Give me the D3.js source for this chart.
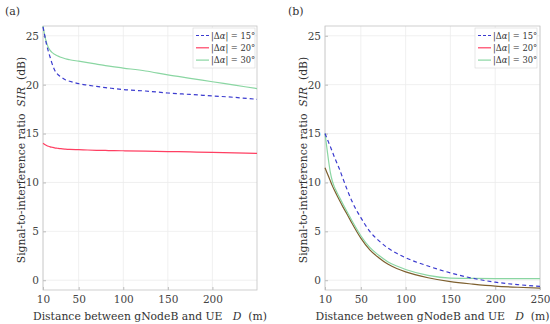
<!DOCTYPE html>
<html><head><meta charset="utf-8">
<script src="https://cdn.jsdelivr.net/npm/d3@7"></script>
<style>
body{margin:0;background:#fff;}
</style></head>
<body><svg id="c" width="550" height="324"></svg>
<script>
const distance = [10,12,14,16,18,20,23,26,30,35,40,50,60,70,80,90,100,125,150,175,200,225,250];
const blueA  = [25.9,25.0,24.1,23.4,22.8,22.2,21.5,21.1,20.8,20.5,20.35,20.1,19.95,19.82,19.7,19.6,19.5,19.35,19.15,19.0,18.85,18.7,18.5];
const redA   = [14.0,13.88,13.78,13.7,13.64,13.6,13.54,13.5,13.45,13.41,13.38,13.35,13.32,13.29,13.27,13.25,13.24,13.2,13.16,13.12,13.07,13.02,12.97];
const greenA = [26.0,25.0,24.3,23.8,23.5,23.3,23.1,22.95,22.8,22.65,22.55,22.4,22.25,22.1,21.95,21.82,21.7,21.4,21.0,20.65,20.3,19.95,19.6];
const blueB  = [15.0,14.55,14.1,13.65,13.2,12.7,12.05,11.4,10.4,9.2,8.1,6.4,5.0,4.05,3.3,2.75,2.3,1.45,0.75,0.2,-0.2,-0.45,-0.62];
const redB   = [11.5,11.05,10.6,10.15,9.7,9.3,8.75,8.2,7.5,6.7,5.85,4.3,3.1,2.3,1.65,1.2,0.85,0.25,-0.15,-0.4,-0.6,-0.72,-0.8];
const greenB = [15.0,13.6,12.2,11.0,10.2,9.65,9.05,8.5,7.8,6.95,6.1,4.55,3.35,2.55,1.9,1.45,1.1,0.5,0.22,0.18,0.17,0.17,0.17];
const xTicksA = [10,50,100,150,200];
const xTicksB = [10,50,100,150,200,250];
const yTicks = [0,5,10,15,20,25];
const legendLabels = ["15°","20°","30°"];
const panelLabels = ["(a)","(b)"];

const FONT = "DejaVu Serif, serif";
const svg = d3.select("#c");
const colors = {blue:"#3b3bcf", red:"#ff3f62", green:"#8ad6a2", brown:"#7d5f2e"};

function txt(sel){ return sel.attr("font-family",FONT).style("font-family",FONT).attr("fill","#333"); }

function panel(x0, x1, xt, series, title, titleX, legX) {
  const x = d3.scaleLinear().domain([10,250]).range([x0,x1]);
  const y = d3.scaleLinear().domain([-1,26]).range([290,26]);
  const g = svg.append("g");
  g.selectAll(".gx").data(xt).join("line")
    .attr("x1",d=>x(d)).attr("x2",d=>x(d)).attr("y1",26).attr("y2",290)
    .attr("stroke","#ececec").attr("stroke-width",0.8);
  g.selectAll(".gy").data(yTicks).join("line")
    .attr("y1",d=>y(d)).attr("y2",d=>y(d)).attr("x1",x0).attr("x2",x1)
    .attr("stroke","#ececec").attr("stroke-width",0.8);
  const ax = g.append("g").attr("transform",`translate(0,290)`)
    .call(d3.axisBottom(x).tickValues(xt).tickSize(-3).tickPadding(6));
  const ay = g.append("g").attr("transform",`translate(${x0},0)`)
    .call(d3.axisLeft(y).tickValues(yTicks).tickSize(-3).tickPadding(4));
  [ax,ay].forEach(a=>{
    a.attr("font-family",FONT).attr("font-size",10.5);
    a.select(".domain").remove();
    a.selectAll("line").attr("stroke","#bbb");
    txt(a.selectAll("text")).attr("fill","#444");
  });
  g.append("rect").attr("x",x0).attr("y",26).attr("width",x1-x0).attr("height",264)
    .attr("fill","none").attr("stroke","#c4c4c4").attr("stroke-width",0.8);
  const line = d3.line().x((d,i)=>x(distance[i])).y(d=>y(d)).curve(d3.curveMonotoneX);
  series.forEach(s=>{
    g.append("path").datum(s.v).attr("d",line).attr("fill","none")
      .attr("stroke",s.c).attr("stroke-width",s.w||1.2)
      .attr("stroke-dasharray",s.dash?"4,3":null);
  });
  const lg = g.append("g");
  lg.append("rect").attr("x",legX).attr("y",28).attr("width",62).attr("height",40)
    .attr("fill","#fff").attr("stroke","#d6d6d6").attr("stroke-width",0.6);
  const lc = [{c:colors.blue,dash:true},{c:colors.red},{c:colors.green}];
  legendLabels.forEach((l,i)=>{
    const yy = 35.5 + i*12.3;
    lg.append("line").attr("x1",legX+3).attr("x2",legX+16).attr("y1",yy).attr("y2",yy)
      .attr("stroke",lc[i].c).attr("stroke-width",1.2).attr("stroke-dasharray",lc[i].dash?"3,2":null);
    const t = txt(lg.append("text")).attr("x",legX+18).attr("y",yy+3).attr("font-size",8.3);
    t.append("tspan").text("|Δ");
    t.append("tspan").attr("font-style","italic").text("α");
    t.append("tspan").text("| = "+l);
  });
  txt(svg.append("text")).attr("x",titleX).attr("y",15).attr("font-size",11).text(title);
  const xl = txt(svg.append("text")).attr("x",(x0+x1)/2).attr("y",320).attr("text-anchor","middle")
    .attr("font-size",10.8).attr("xml:space","preserve");
  xl.append("tspan").text("Distance between gNodeB and UE   ");
  xl.append("tspan").attr("font-style","italic").text("D");
  xl.append("tspan").text("  (m)");
  const lx = x0 - 18;
  const yl = txt(svg.append("text")).attr("transform",`translate(${lx},160) rotate(-90)`)
    .attr("text-anchor","middle").attr("font-size",10.8).attr("xml:space","preserve");
  yl.append("tspan").text("Signal-to-interference ratio  ");
  yl.append("tspan").attr("font-style","italic").text("SIR");
  yl.append("tspan").text("  (dB)");
}

panel(43,257,xTicksA,[
  {v:redA,c:colors.red},
  {v:greenA,c:colors.green},
  {v:blueA,c:colors.blue,dash:true}
],panelLabels[0],5,193);

panel(325,540,xTicksB,[
  {v:redB,c:colors.brown},
  {v:greenB,c:colors.green},
  {v:blueB,c:colors.blue,dash:true}
],panelLabels[1],288,475);
</script></body></html>
